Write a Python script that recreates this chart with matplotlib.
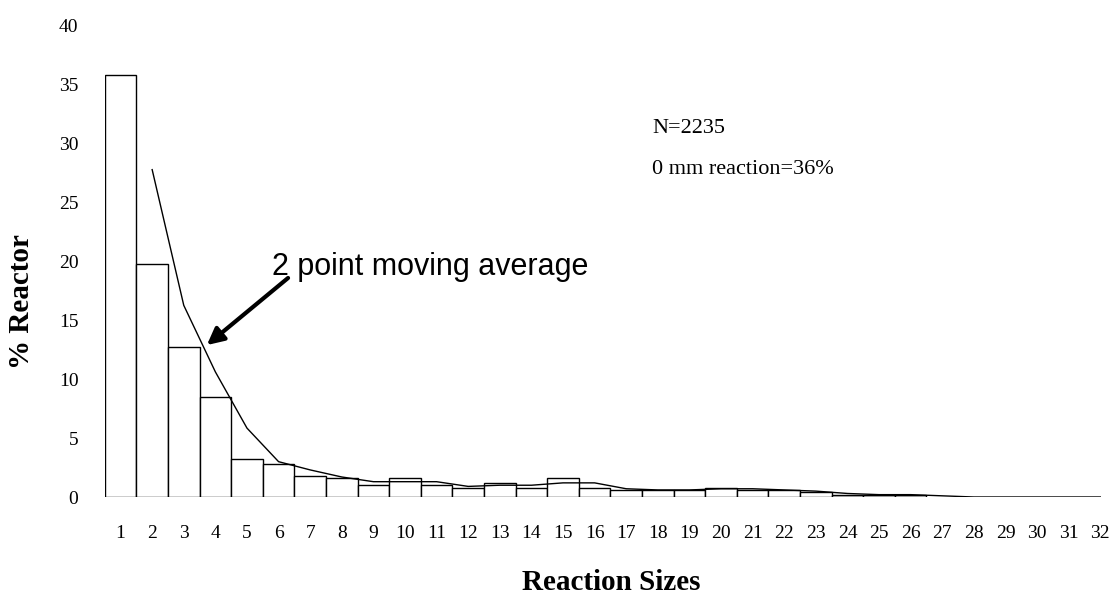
import numpy as np
import pandas as pd
import matplotlib
matplotlib.use('Agg')
import matplotlib.pyplot as plt

# reaction size categories and % of reactors in each
sizes = list(range(1, 33))
pct = [35.8, 19.8, 12.75, 8.5, 3.2, 2.8, 1.8, 1.6, 1.0, 1.6,
       1.0, 0.8, 1.2, 0.8, 1.6, 0.8, 0.6, 0.6, 0.6, 0.8,
       0.6, 0.6, 0.4, 0.2, 0.2, 0.2, 0.0, 0.0, 0.0, 0.0,
       0.0, 0.0]

# 2 point moving average of the bars
ma = pd.Series(pct).rolling(2).mean()

plt.rcParams['font.family'] = ['Liberation Serif', 'DejaVu Serif']

fig = plt.figure(figsize=(11.18, 5.97), dpi=100)
ax = fig.add_axes([0.0937, 0.1675, 0.9046, 0.789])

# bars (empty categories are not drawn)
for s, p in zip(sizes, pct):
    if p > 0:
        ax.bar(s, p, width=1.0, color='white', edgecolor='black', linewidth=1.0)

ax.plot(sizes[1:], ma[1:], color='black', linewidth=1.0)

ax.set_xlim(0.5, 32.5)
ax.set_ylim(0, 40)
ax.set_xticks(sizes)
ax.set_yticks(range(0, 41, 5))
ax.tick_params(axis='both', length=0, labelsize=14)
ax.tick_params(axis='x', pad=20)
ax.tick_params(axis='y', pad=19)
for sp in ax.spines.values():
    sp.set_visible(False)

ax.text(17.82, 30.9, 'N=2235', fontsize=16, ha='left', va='baseline')
ax.text(17.82, 27.4, '0 mm reaction=36%', fontsize=16, ha='left', va='baseline')

ax.text(5.79, 18.86, '2 point moving average', fontsize=22, ha='left', va='baseline',
        family=['Liberation Sans', 'DejaVu Sans'])
ax.annotate('', xy=(3.73, 12.9), xytext=(6.3, 18.6),
            arrowprops=dict(arrowstyle='-|>', lw=3, color='black', mutation_scale=25,
                            shrinkA=0, shrinkB=0))

fig.text(22 / 1118, 1 - 302 / 597, '% Reactor', rotation=90, fontsize=21,
         fontweight='bold', ha='center', va='center')
fig.text(611 / 1118, 1 - 582 / 597, 'Reaction Sizes', fontsize=21,
         fontweight='bold', ha='center', va='center')

fig.savefig('out.png', dpi=100)
